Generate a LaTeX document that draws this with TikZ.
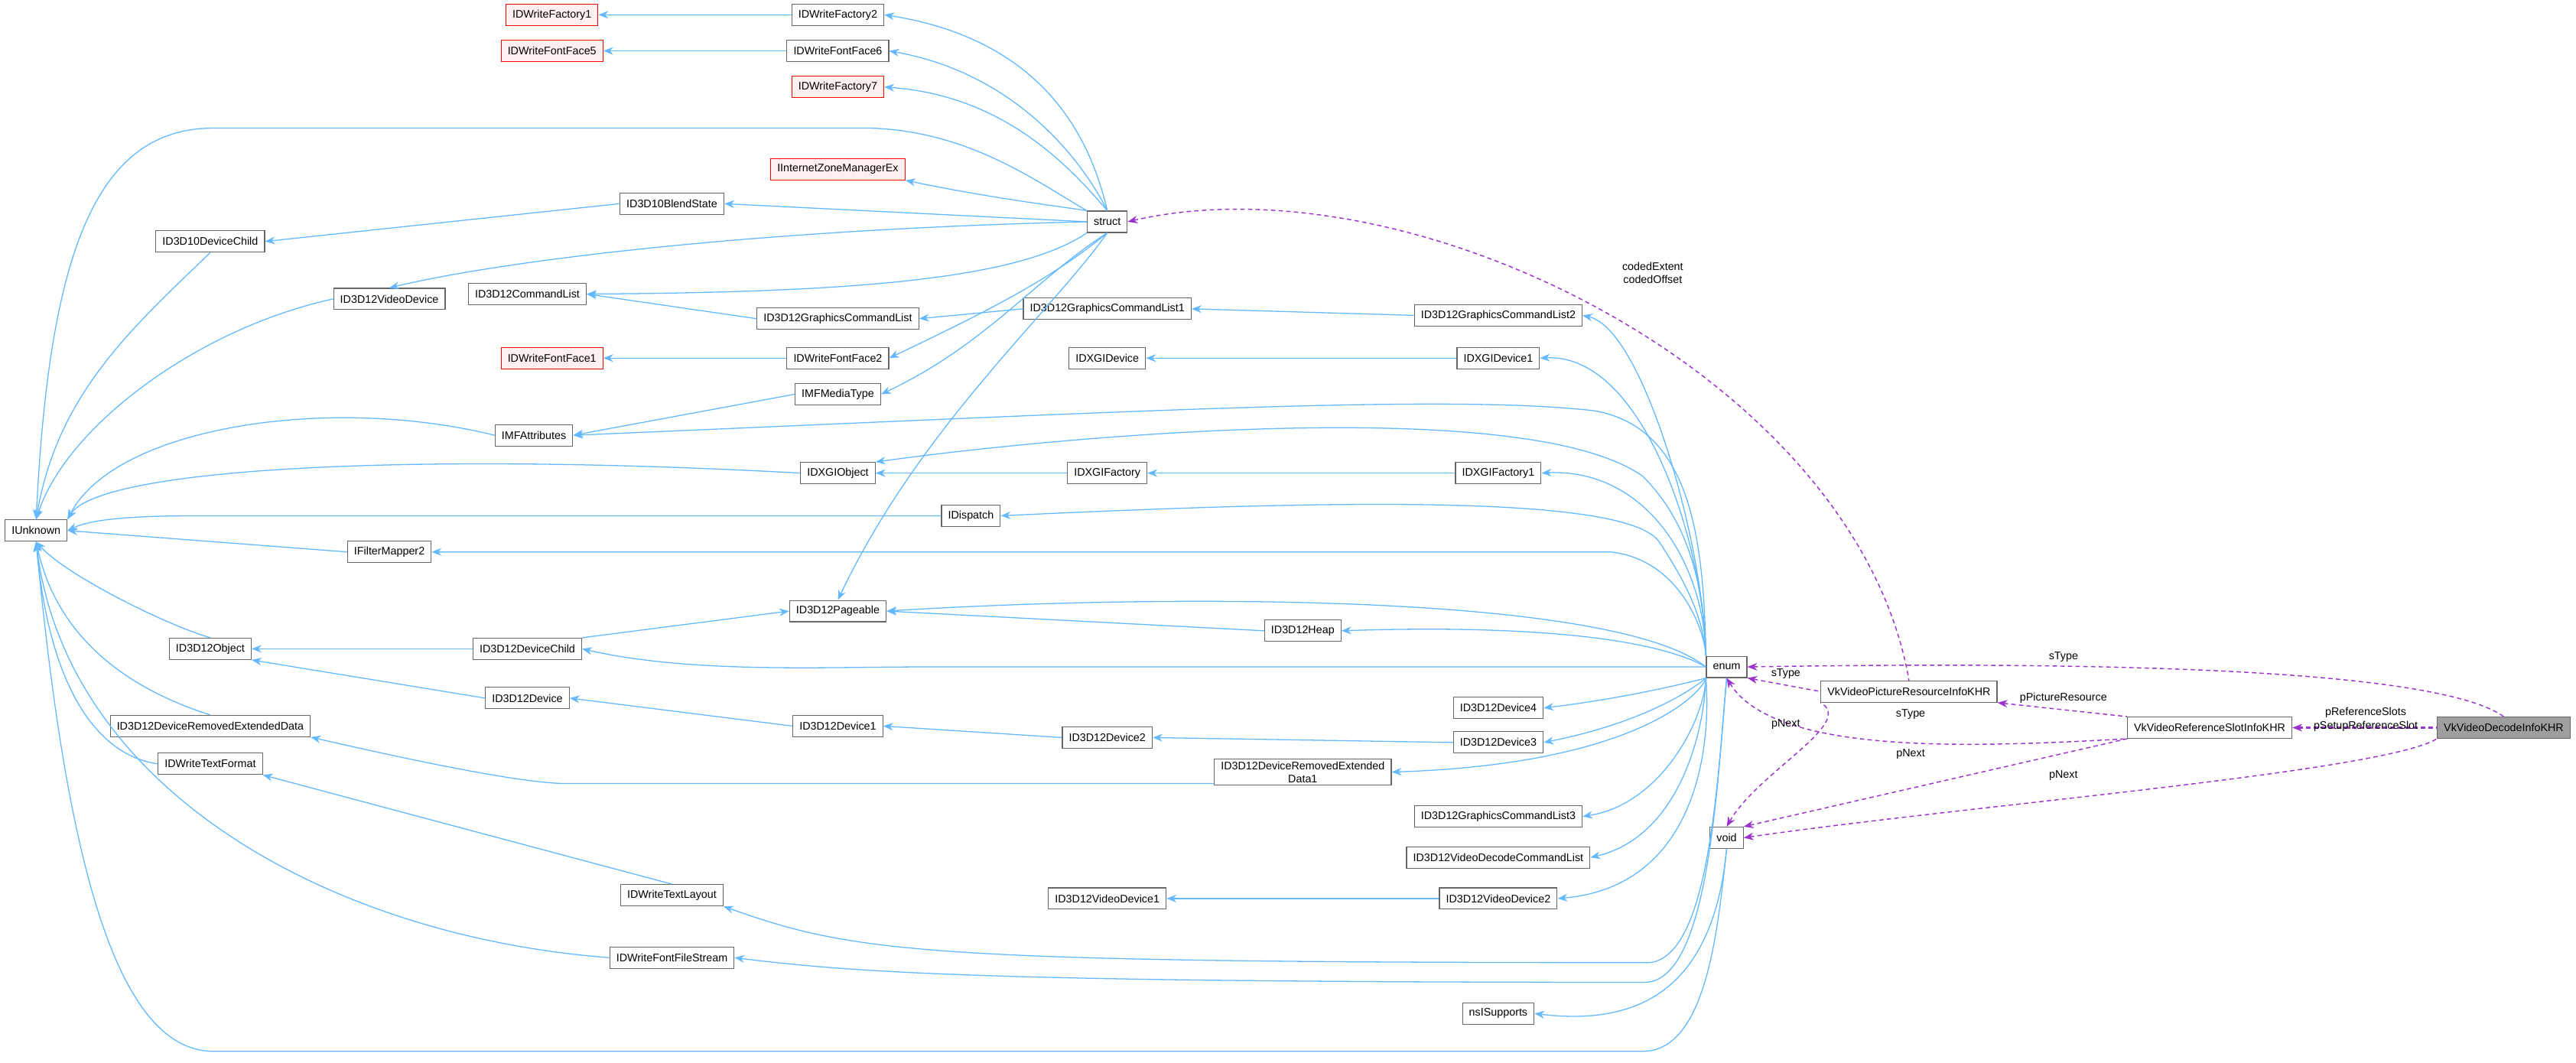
\documentclass[tikz,border=0pt]{standalone}
\usepackage{fontspec}
\setmainfont{Liberation Sans}
\usetikzlibrary{arrows.meta}
\definecolor{edgeblue}{HTML}{63B8FF}
\definecolor{edgeviolet}{HTML}{9A32CD}
\definecolor{boxline}{HTML}{666666}
\definecolor{redfill}{HTML}{FFF0F0}
\tikzset{
  cls/.style={draw=boxline, fill=white, font=\fontsize{5}{6}\selectfont,
    minimum height=9.75pt, inner xsep=3pt, inner ysep=1pt, line width=0.4pt},
  bad/.style={cls, draw=red, fill=redfill},
  here/.style={cls, fill=gray!75},
  inh/.style={draw=edgeblue, line width=0.45pt, {Stealth[length=4.5pt,width=3.5pt]}-},
  use/.style={draw=edgeviolet, line width=0.5pt, dashed, dash pattern=on 2pt off 1.5pt,
    {Stealth[length=4.5pt,width=3.5pt]}-},
  lbl/.style={font=\fontsize{5}{6}\selectfont, inner sep=0pt, align=center}
}
\begin{document}
\begin{tikzpicture}[x=0.75pt,y=-0.75pt]
\useasboundingbox (0,0) rectangle (1568,646.7);
% classes
\node[bad] (DWF1) at (336,9) {IDWriteFactory1};
\node[cls] (DWF2) at (510,9) {IDWriteFactory2};
\node[bad] (DFF5) at (336,31) {IDWriteFontFace5};
\node[cls] (DFF6) at (510,31) {IDWriteFontFace6};
\node[bad] (DWF7) at (510,53) {IDWriteFactory7};
\node[bad] (IZME) at (510,103) {IInternetZoneManagerEx};
\node[cls] (BlendState) at (409,124) {ID3D10BlendState};
\node[cls] (struct) at (674,135) {struct};
\node[cls] (DevChild10) at (128,147) {ID3D10DeviceChild};
\node[cls] (VideoDevice) at (237,182) {ID3D12VideoDevice};
\node[cls] (CmdList) at (321,179) {ID3D12CommandList};
\node[cls] (GCL) at (510,194) {ID3D12GraphicsCommandList};
\node[cls] (GCL1) at (674,188) {ID3D12GraphicsCommandList1};
\node[cls] (GCL2) at (912,192) {ID3D12GraphicsCommandList2};
\node[cls] (DXGIDev) at (674,218) {IDXGIDevice};
\node[cls] (DXGIDev1) at (912,218) {IDXGIDevice1};
\node[bad] (DFF1) at (336,218) {IDWriteFontFace1};
\node[cls] (DFF2) at (510,218) {IDWriteFontFace2};
\node[cls] (MediaType) at (510,240) {IMFMediaType};
\node[cls] (Attributes) at (325,265) {IMFAttributes};
\node[cls] (DXGIObj) at (510,288) {IDXGIObject};
\node[cls] (DXGIFac) at (674,288) {IDXGIFactory};
\node[cls] (DXGIFac1) at (912,288) {IDXGIFactory1};
\node[cls] (Dispatch) at (591,314) {IDispatch};
\node[cls] (IUnknown) at (22,323) {IUnknown};
\node[cls] (Mapper) at (237,336) {IFilterMapper2};
\node[cls] (Pageable) at (510,372) {ID3D12Pageable};
\node[cls] (Heap) at (793,384) {ID3D12Heap};
\node[cls] (Object12) at (128,395) {ID3D12Object};
\node[cls] (DevChild12) at (321,395) {ID3D12DeviceChild};
\node[cls] (enum) at (1051,406) {enum};
\node[cls] (Device) at (321,425) {ID3D12Device};
\node[cls] (PicRes) at (1162,421) {VkVideoPictureResourceInfoKHR};
\node[cls] (Device4) at (912,431) {ID3D12Device4};
\node[cls] (DRED) at (128,442) {ID3D12DeviceRemovedExtendedData};
\node[cls] (RefSlot) at (1345,443) {VkVideoReferenceSlotInfoKHR};
\node[here] (Decode) at (1524,443) {VkVideoDecodeInfoKHR};
\node[cls] (Device1) at (510,442) {ID3D12Device1};
\node[cls] (Device2) at (674,449) {ID3D12Device2};
\node[cls] (Device3) at (912,452) {ID3D12Device3};
\node[cls] (TextFormat) at (128,465) {IDWriteTextFormat};
\node[cls, align=center] (DRED1) at (793,470) {ID3D12DeviceRemovedExtended\\Data1};
\node[cls] (void) at (1051,510) {void};
\node[cls] (GCL3) at (912,497) {ID3D12GraphicsCommandList3};
\node[cls] (VDCL) at (912,522) {ID3D12VideoDecodeCommandList};
\node[cls] (VideoDevice1) at (674,547) {ID3D12VideoDevice1};
\node[cls] (VideoDevice2) at (912,547) {ID3D12VideoDevice2};
\node[cls] (TextLayout) at (409,545) {IDWriteTextLayout};
\node[cls] (FileStream) at (409,583) {IDWriteFontFileStream};
\node[cls] (nsISupports) at (912,617) {nsISupports};
% inheritance
\draw[inh] (DWF1) -- (DWF2);
\draw[inh] (DFF5) -- (DFF6);
\draw[inh] (DFF1) -- (DFF2);
\draw[inh] (DWF2.east) .. controls (640,25) and (665,90) .. (struct.north);
\draw[inh] (DFF6.east) .. controls (620,45) and (660,100) .. (struct.north);
\draw[inh] (DWF7.east) .. controls (610,58) and (650,100) .. (struct.north);
\draw[inh] (IUnknown.north) .. controls (30,150) and (60,78) .. (130,78) -- (530,78) .. controls (590,80) and (630,110) .. (struct.north west);
\draw[inh] (IZME.south east) .. controls (600,120) and (640,125) .. (struct.north west);
\draw[inh] (BlendState.east) -- (struct.west);
\draw[inh] (DevChild10.east) -- (BlendState.west);
\draw[inh] (IUnknown.north) .. controls (35,240) and (80,200) .. (DevChild10.south);
\draw[inh] (VideoDevice.north) .. controls (300,160) and (450,140) .. (struct.west);
\draw[inh] (CmdList.east) .. controls (520,178) and (620,170) .. (struct.south west);
\draw[inh] (CmdList.east) -- (GCL.west);
\draw[inh] (GCL.east) -- (GCL1.west);
\draw[inh] (GCL1.east) -- (GCL2.west);
\draw[inh] (DFF2.east) .. controls (600,190) and (640,170) .. (struct.south);
\draw[inh] (MediaType.east) .. controls (600,210) and (630,170) .. (struct.south);
\draw[inh] (Attributes.east) -- (MediaType.west);
\draw[inh] (IUnknown.north east) .. controls (70,260) and (200,240) .. (Attributes.west);
\draw[inh] (IUnknown.north) .. controls (40,260) and (120,200) .. (VideoDevice.west);
\draw[inh] (DXGIDev) -- (DXGIDev1);
\draw[inh] (DXGIObj) -- (DXGIFac);
\draw[inh] (DXGIFac) -- (DXGIFac1);
\draw[inh] (IUnknown.north east) .. controls (60,285) and (250,275) .. (DXGIObj.west);
\draw[inh] (IUnknown.east) .. controls (60,314) and (100,314) .. (130,314) -- (Dispatch.west);
\draw[inh] (Pageable.north) .. controls (560,260) and (640,190) .. (struct.south);
\draw[inh] (IUnknown.east) -- (Mapper.west);
\draw[inh] (Pageable.west) -- (DevChild12.north east);
\draw[inh] (Pageable.east) -- (Heap.west);
\draw[inh] (Object12.east) -- (DevChild12.west);
\draw[inh] (IUnknown.south) .. controls (40,350) and (100,380) .. (Object12.north);
\draw[inh] (Object12.south east) -- (Device.west);
\draw[inh] (Device.east) -- (Device1.west);
\draw[inh] (Device1.east) -- (Device2.west);
\draw[inh] (Device2.east) -- (Device3.west);
\draw[inh] (IUnknown.south) .. controls (35,390) and (80,420) .. (DRED.north);
\draw[inh] (DRED.south east) .. controls (260,465) and (320,477) .. (345,477) -- (DRED1.west |- 0,477);
\draw[inh] (IUnknown.south) .. controls (30,420) and (60,460) .. (TextFormat.west);
\draw[inh] (TextFormat.south east) -- (TextLayout.north);
\draw[inh] (IUnknown.south) .. controls (40,480) and (200,570) .. (FileStream.west);
\draw[inh] (VideoDevice1) -- (VideoDevice2);
\draw[inh] (IUnknown.south) .. controls (40,520) and (70,640) .. (130,640) -- (1000,640) .. controls (1040,640) and (1046,560) .. (void.south);
\draw[inh] (nsISupports.east) .. controls (1000,625) and (1043,600) .. (void.south);
% bases reached from enum
\draw[inh] (GCL2.east) .. controls (1000,200) and (1037,330) .. (enum.north west);
\draw[inh] (DXGIDev1.east) .. controls (1000,215) and (1037,330) .. (enum.north west);
\draw[inh] (Attributes.east) .. controls (700,250) and (880,240) .. (970,250) .. controls (1030,260) and (1037,330) .. (enum.north west);
\draw[inh] (DXGIObj.north east) .. controls (650,265) and (930,240) .. (1000,290) .. controls (1030,320) and (1037,360) .. (enum.north west);
\draw[inh] (DXGIFac1.east) .. controls (1000,285) and (1037,340) .. (enum.north west);
\draw[inh] (Dispatch.east) .. controls (800,305) and (990,300) .. (1010,330) .. controls (1030,360) and (1037,380) .. (enum.north west);
\draw[inh] (Mapper.east) -- (980,336) .. controls (1020,340) and (1037,380) .. (enum.north west);
\draw[inh] (Pageable.east) .. controls (700,362) and (980,360) .. (enum.west);
\draw[inh] (Heap.east) .. controls (940,380) and (1010,390) .. (enum.west);
\draw[inh] (DevChild12.east) .. controls (420,410) and (500,406) .. (560,406) -- (enum.west);
\draw[inh] (Device4.east) .. controls (990,425) and (1030,415) .. (enum.south west);
\draw[inh] (Device3.east) .. controls (1000,440) and (1030,420) .. (enum.south west);
\draw[inh] (DRED1.east) .. controls (1000,465) and (1037,420) .. (enum.south west);
\draw[inh] (GCL3.east) .. controls (1010,490) and (1037,440) .. (enum.south west);
\draw[inh] (VDCL.east) .. controls (1020,510) and (1037,450) .. (enum.south west);
\draw[inh] (VideoDevice2.east) .. controls (1030,540) and (1042,460) .. (enum.south west);
\draw[inh] (TextLayout.south east) .. controls (520,580) and (560,586) .. (1000,586) .. controls (1040,590) and (1045,480) .. (enum.south);
\draw[inh] (FileStream.east) .. controls (520,592) and (600,598) .. (1000,598) .. controls (1040,600) and (1045,480) .. (enum.south);
% members
\draw[use] (struct.east) .. controls (860,95) and (1130,230) .. (PicRes.north);
\draw[use] (enum.east) .. controls (1250,403) and (1480,405) .. (Decode.north);
\draw[use] (enum.south east) -- (PicRes.west);
\draw[use] (PicRes.south east) -- (RefSlot.north west);
\draw[use] (enum.south) .. controls (1080,460) and (1200,455) .. (RefSlot.south west);
\draw[use] (void.north) .. controls (1070,470) and (1130,440) .. (PicRes.south west);
\draw[use] (void.north east) -- (RefSlot.south west);
\draw[use] (void.east) .. controls (1200,490) and (1450,470) .. (Decode.south west);
\draw[use, line width=0.8pt] (RefSlot.east) -- (Decode.west);
% member labels
\node[lbl] (lExtent) at (1006,166) {codedExtent\\codedOffset};
\node[lbl] (lType1) at (1256,400) {sType};
\node[lbl] (lType2) at (1087,410) {sType};
\node[lbl] (lType3) at (1163,435) {sType};
\node[lbl] (lNext1) at (1087,441) {pNext};
\node[lbl] (lPic) at (1256,425) {pPictureResource};
\node[lbl] (lSlots) at (1440,438) {pReferenceSlots\\pSetupReferenceSlot};
\node[lbl] (lNext2) at (1163,459) {pNext};
\node[lbl] (lNext3) at (1256,472) {pNext};
\end{tikzpicture}
\end{document}
